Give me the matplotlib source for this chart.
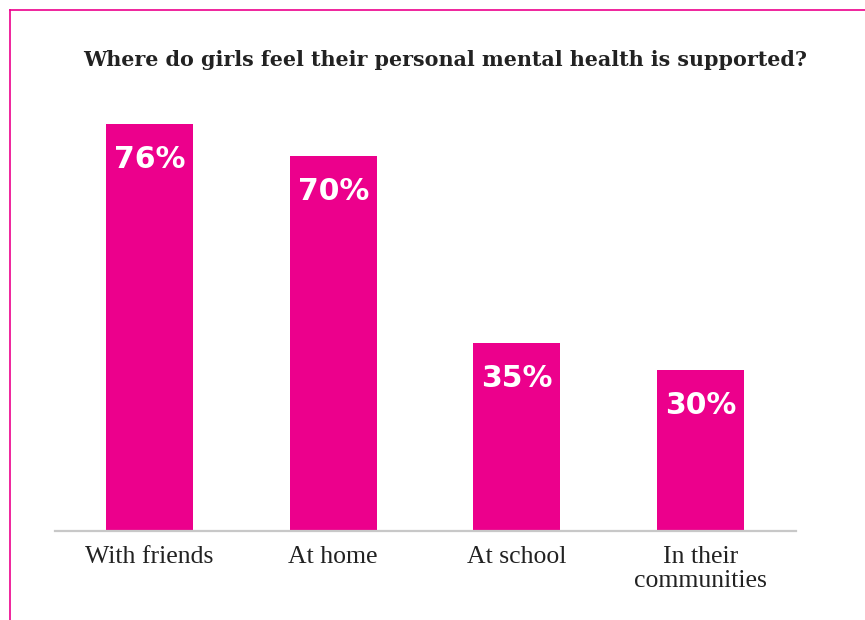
import matplotlib.pyplot as plt
from matplotlib.lines import Line2D

# data
categories = ['With friends', 'At home', 'At school', 'In their\ncommunities']
values = [76, 70, 35, 30]
title = 'Where do girls feel their personal mental health is supported?'

pink = '#EC008C'
W, H = 865, 620

fig = plt.figure(figsize=(W/100, H/100), dpi=100)
ax = fig.add_axes([55/W, 89/H, 741/W, 432/H])

x = list(range(len(categories)))
ax.bar(x, values, width=0.474, color=pink, zorder=2)

for xi, v in zip(x, values):
    ax.text(xi, v - 6.6, f'{v}%', ha='center', va='center', color='white',
            fontsize=21.5, fontweight='heavy', family='DejaVu Sans')

ax.set_xlim(-0.515, 3.52)
ax.set_ylim(0, 432/5.36)
ax.set_yticks([])
ax.set_xticks(x)
ax.set_xticklabels(categories, fontsize=18.5, color='#222222', family='Liberation Serif',
                   linespacing=1.1)
ax.tick_params(axis='x', length=0, pad=11)
for s in ['top', 'left', 'right']:
    ax.spines[s].set_visible(False)
ax.spines['bottom'].set_color('#c8c8c8')
ax.spines['bottom'].set_linewidth(1.6)

fig.text(445/W, 1 - 60/H, title, ha='center', va='center', fontsize=14.9,
         fontweight='bold', color='#222222', family='DejaVu Serif')

# pink frame (top and left)
fig.add_artist(Line2D([9.5/W, 9.5/W], [0, 1 - 10/H], color=pink, lw=1.2))
fig.add_artist(Line2D([9.5/W, 1], [1 - 10/H, 1 - 10/H], color=pink, lw=1.2))

plt.savefig('out.png', dpi=100)
plt.close(fig)
